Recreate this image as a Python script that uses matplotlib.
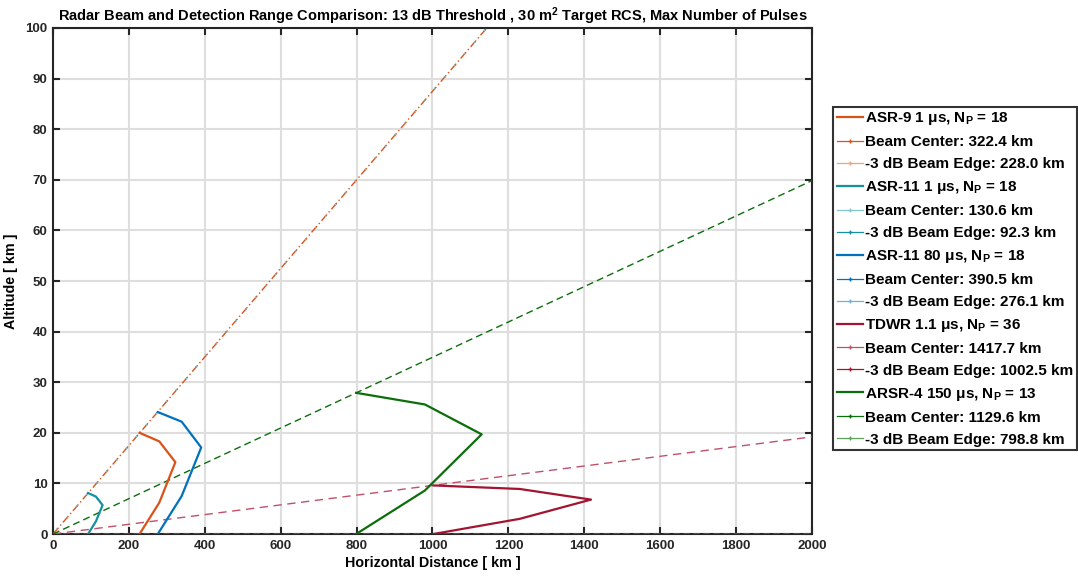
import numpy as np
import matplotlib
matplotlib.use("Agg")
import matplotlib.pyplot as plt
from matplotlib.lines import Line2D

plt.rcParams['font.family'] = ['Liberation Sans', 'DejaVu Sans']
plt.rcParams['font.weight'] = 'bold'
plt.rcParams['mathtext.fontset'] = 'custom'
plt.rcParams['mathtext.rm'] = 'Liberation Sans:bold'
plt.rcParams['mathtext.bf'] = 'Liberation Sans:bold'
plt.rcParams['mathtext.it'] = 'Liberation Sans:bold'

# ---------------- data ----------------
radar_names = ["ASR-9 1 μs", "ASR-11 1 μs", "ASR-11 80 μs", "TDWR 1.1 μs", "ARSR-4 150 μs"]
num_pulses = [18, 18, 18, 36, 13]
center_range_km = [322.4, 130.6, 390.5, 1417.7, 1129.6]
edge_range_km = [228.0, 92.3, 276.1, 1002.5, 798.8]
beam_top_elev_deg = [5.0, 5.0, 5.0, 0.55, 2.0]
beam_low_elev_deg = [0.0, 0.0, 0.0, 0.0, 0.0]

# detection contours (range km, altitude km)
det_range = [
    [228.0, 280.0, 322.4, 280.0, 228.0],
    [92.3, 113.0, 130.6, 113.0, 92.3],
    [276.1, 339.0, 390.5, 339.0, 276.1],
    [1002.5, 1230.0, 1417.7, 1230.0, 1002.5],
    [798.8, 980.0, 1129.6, 980.0, 798.8],
]
det_alt = [
    [0.0, 6.2, 14.2, 18.3, 20.0],
    [0.0, 2.5, 5.7, 7.4, 8.1],
    [0.0, 7.5, 17.1, 22.2, 24.1],
    [0.0, 3.0, 6.8, 8.9, 9.6],
    [0.0, 8.6, 19.7, 25.6, 27.9],
]

main_colors = ['#D95319', '#14909E', '#0072BD', '#A2142F', '#0B6E0B']
center_colors = ['#D95319', '#85C7CF', '#0072BD', '#C0506A', '#0B6E0B']
edge_colors = ['#EFA27F', '#14909E', '#6FB0DE', '#A2142F', '#5DA45D']
beam_styles = [(0, (6, 2, 1, 2)), (7, (1, 10)), (7, (1, 10)), (0, (6, 4)), (0, (5, 3))]

x_max = 2000.0
xticks = np.arange(0, 2001, 200)
yticks = np.arange(0, 101, 10)

# ---------------- figure ----------------
fig = plt.figure(figsize=(10.78, 5.76), dpi=100)
ax = fig.add_axes([0.0492, 0.0729, 0.7040, 0.8785])

draw_order = [2, 0, 1, 3, 4]
for i in draw_order:
    xr = np.array([0.0, x_max])
    ax.plot(xr, xr * np.tan(np.radians(beam_low_elev_deg[i])), color=edge_colors[i],
            lw=0.9, ls=(0, (5, 3)), zorder=3)
for i in draw_order:
    xr = np.array([0.0, x_max])
    ax.plot(xr, xr * np.tan(np.radians(beam_top_elev_deg[i])), color=center_colors[i],
            lw=1.0, ls=beam_styles[i], zorder=3)

for i in range(5):
    ax.plot(det_range[i], det_alt[i], color=main_colors[i], lw=1.6, zorder=4)

ax.set_xlim(0, 2000)
ax.set_ylim(0, 100)
ax.set_xticks(xticks)
ax.set_yticks(yticks)
ax.grid(True, color='#DEDEDE', lw=1.5, zorder=0)
ax.set_axisbelow(True)
ax.tick_params(direction='in', length=5, width=1.5, top=True, right=True,
               labelsize=9.5, colors='#262626', pad=4)
for lab in ax.get_xticklabels() + ax.get_yticklabels():
    lab.set_fontweight('bold')
for s in ax.spines.values():
    s.set_linewidth(1.5)
    s.set_color('#262626')

ax.set_xlabel('Horizontal Distance [ km ]', fontsize=10.3, fontweight='bold', labelpad=3)
ax.set_ylabel('Altitude [ km ]', fontsize=10.3, fontweight='bold', labelpad=5)
ax.set_title(r'Radar Beam and Detection Range Comparison: 13 dB Threshold , 30 m$^\mathbf{2}$ Target RCS, Max Number of Pulses',
             fontsize=10.5, fontweight='bold', pad=5)

handles = []
labels = []
for i in range(5):
    handles.append(Line2D([], [], color=main_colors[i], lw=1.6))
    labels.append(radar_names[i] + r', N$_\mathbf{P}$ = ' + str(num_pulses[i]))
    handles.append(Line2D([], [], color=center_colors[i], lw=0.9, marker='+', markersize=2.5))
    labels.append('Beam Center: %.1f km' % center_range_km[i])
    handles.append(Line2D([], [], color=edge_colors[i], lw=0.9, marker='+', markersize=2.5))
    labels.append('-3 dB Beam Edge: %.1f km' % edge_range_km[i])

leg = fig.legend(handles, labels, loc='upper left', bbox_to_anchor=(0.7725, 0.815),
                 frameon=True, fancybox=False, edgecolor='#000000',
                 handlelength=1.75, handletextpad=0.1, labelspacing=0.52,
                 borderpad=0.25, borderaxespad=0.0, prop={'weight': 'bold', 'size': 11})
leg.get_frame().set_linewidth(1.5)

fig.savefig('out.png', dpi=100)
